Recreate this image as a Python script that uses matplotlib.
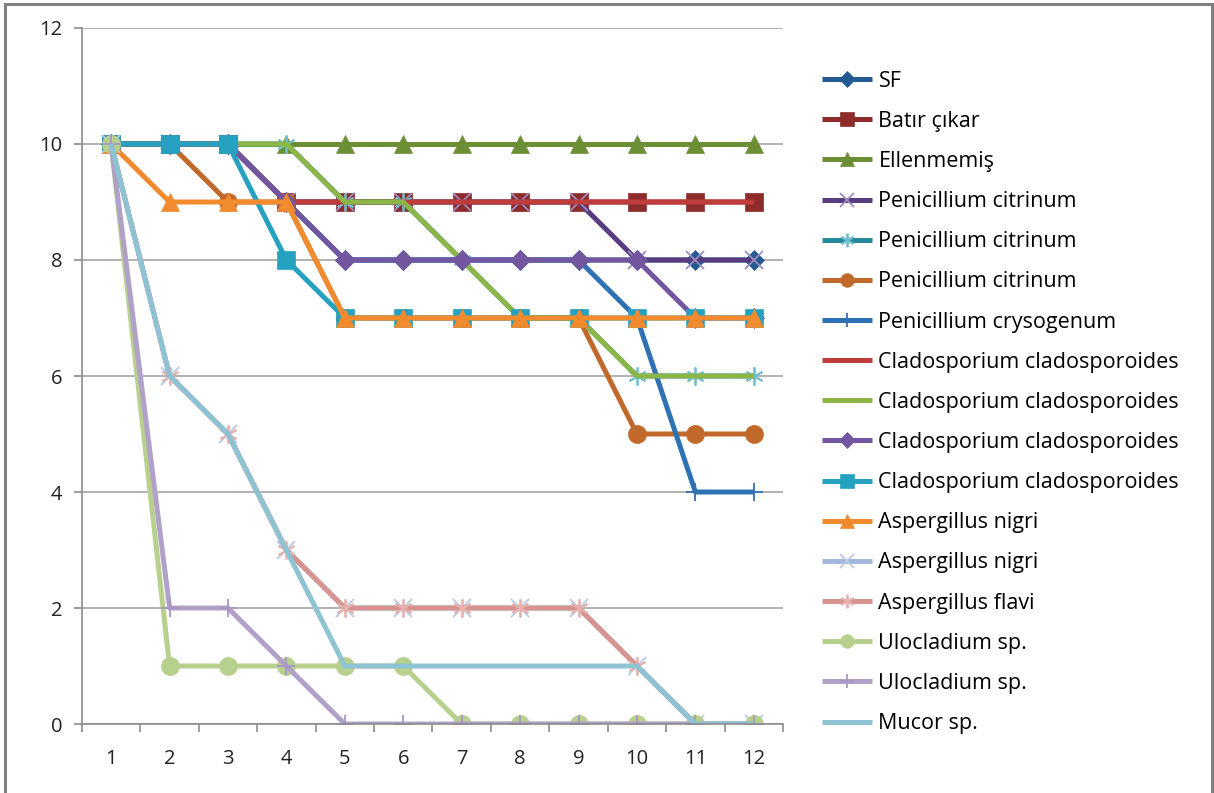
import numpy as np
import matplotlib
matplotlib.use("Agg")
import matplotlib.pyplot as plt
from matplotlib.patches import Rectangle

plt.rcParams['font.family'] = ['Open Sans', 'DejaVu Sans']

days = [1, 2, 3, 4, 5, 6, 7, 8, 9, 10, 11, 12]

labels = ['SF', 'Batır çıkar', 'Ellenmemiş',
          'Penicillium citrinum', 'Penicillium citrinum', 'Penicillium citrinum',
          'Penicillium crysogenum',
          'Cladosporium cladosporoides', 'Cladosporium cladosporoides',
          'Cladosporium cladosporoides', 'Cladosporium cladosporoides',
          'Aspergillus nigri', 'Aspergillus nigri', 'Aspergillus flavi',
          'Ulocladium sp.', 'Ulocladium sp.', 'Mucor sp.']

sf          = [10, 10, 10, 9, 8, 8, 8, 8, 8, 8, 8, 8]
batir       = [10, 10, 10, 9, 9, 9, 9, 9, 9, 9, 9, 9]
ellenmemis  = [10, 10, 10, 10, 10, 10, 10, 10, 10, 10, 10, 10]
pen_cit_1   = [10, 10, 10, 9, 9, 9, 9, 9, 9, 8, 8, 8]
pen_cit_2   = [10, 10, 10, 10, 9, 9, 8, 7, 7, 6, 6, 6]
pen_cit_3   = [10, 10, 9, 9, 7, 7, 7, 7, 7, 5, 5, 5]
pen_crys    = [10, 10, 10, 9, 8, 8, 8, 8, 8, 7, 4, 4]
clad_1      = [10, 10, 10, 9, 9, 9, 9, 9, 9, 9, 9, 9]
clad_2      = [10, 10, 10, 10, 9, 9, 8, 7, 7, 6, 6, 6]
clad_3      = [10, 10, 10, 9, 8, 8, 8, 8, 8, 8, 7, 7]
clad_4      = [10, 10, 10, 8, 7, 7, 7, 7, 7, 7, 7, 7]
asp_nig_1   = [10, 9, 9, 9, 7, 7, 7, 7, 7, 7, 7, 7]
asp_nig_2   = [10, 6, 5, 3, 2, 2, 2, 2, 2, 1, 0, 0]
asp_flavi   = [10, 6, 5, 3, 2, 2, 2, 2, 2, 1, 0, 0]
uloc_1      = [10, 1, 1, 1, 1, 1, 0, 0, 0, 0, 0, 0]
uloc_2      = [10, 2, 2, 1, 0, 0, 0, 0, 0, 0, 0, 0]
mucor       = [10, 6, 5, 3, 1, 1, 1, 1, 1, 1, 0, 0]

series = [sf, batir, ellenmemis, pen_cit_1, pen_cit_2, pen_cit_3, pen_crys,
          clad_1, clad_2, clad_3, clad_4, asp_nig_1, asp_nig_2, asp_flavi,
          uloc_1, uloc_2, mucor]

# line colour, marker, marker colour
styles = [
    ('#235A92', 'D', '#235A92'),
    ('#8E2B2B', 's', '#8E2B2B'),
    ('#6C8F36', '^', '#6C8F36'),
    ('#573C80', 'x', '#9C8CC0'),
    ('#268A9C', (6, 2, 0), '#6FBFD0'),
    ('#C0692A', 'o', '#C0692A'),
    ('#2E72B4', '+', '#2E72B4'),
    ('#BE3D3A', None, None),
    ('#8DB648', None, None),
    ('#7256A0', 'D', '#7256A0'),
    ('#26A2C0', 's', '#26A2C0'),
    ('#F28A2E', '^', '#F28A2E'),
    ('#A2B7DB', 'x', '#B9CAE6'),
    ('#D6938F', (6, 2, 0), '#E8AFAB'),
    ('#B7D08E', 'o', '#B7D08E'),
    ('#B1A0C8', '+', '#A896C2'),
    ('#8EC3D4', None, None),
]

fig = plt.figure(figsize=(12.14, 7.93), dpi=100)
ax = fig.add_axes([0.0675, 0.087, 0.5775, 0.8777])

for vals, label, (col, mk, mcol) in zip(series, labels, styles):
    kw = dict(color=col, lw=3.6, label=label, solid_joinstyle='round',
              solid_capstyle='butt')
    if mk is not None:
        if mk in ('x', '+') or isinstance(mk, tuple):
            kw.update(marker=mk, markersize=13, markeredgecolor=mcol,
                      markeredgewidth=1.3)
        else:
            size = 10.5 if mk == 'D' else 13
            kw.update(marker=mk, markersize=size, markerfacecolor=mcol,
                      markeredgecolor=mcol, markeredgewidth=0.5)
    ax.plot(days, vals, **kw)

ax.set_xlim(0.5, 12.5)
ax.set_ylim(0, 12)
ax.set_yticks(np.arange(0, 13, 2))
ax.set_xticks(days)
ax.set_xticks(np.arange(0.5, 13, 1), minor=True)

ax.grid(axis='y', color='#A6A6A6', lw=1.2)
ax.set_axisbelow(True)
for side in ('top', 'right'):
    ax.spines[side].set_visible(False)
for side in ('left', 'bottom'):
    ax.spines[side].set_color('#8C8C8C')
    ax.spines[side].set_linewidth(1.2)

ax.tick_params(axis='y', length=6, width=1.2, color='#8C8C8C', pad=8,
               labelsize=14.5, labelcolor='#222222')
ax.tick_params(axis='x', which='major', length=0, pad=18,
               labelsize=14.5, labelcolor='#222222')
ax.tick_params(axis='x', which='minor', length=6, width=1.2, color='#8C8C8C')

fig.legend(loc='upper left', bbox_to_anchor=(0.677, 0.911), frameon=False,
           fontsize=15.5, handlelength=2.35, handletextpad=0.28,
           labelspacing=0.89, borderaxespad=0, borderpad=0, markerscale=0.75)

# chart border
fig.patches.append(Rectangle((0.0041, -0.01), 0.9943, 1.005, transform=fig.transFigure,
                             fill=False, edgecolor='#808080', lw=2.2))

fig.savefig('out.png', dpi=100)
